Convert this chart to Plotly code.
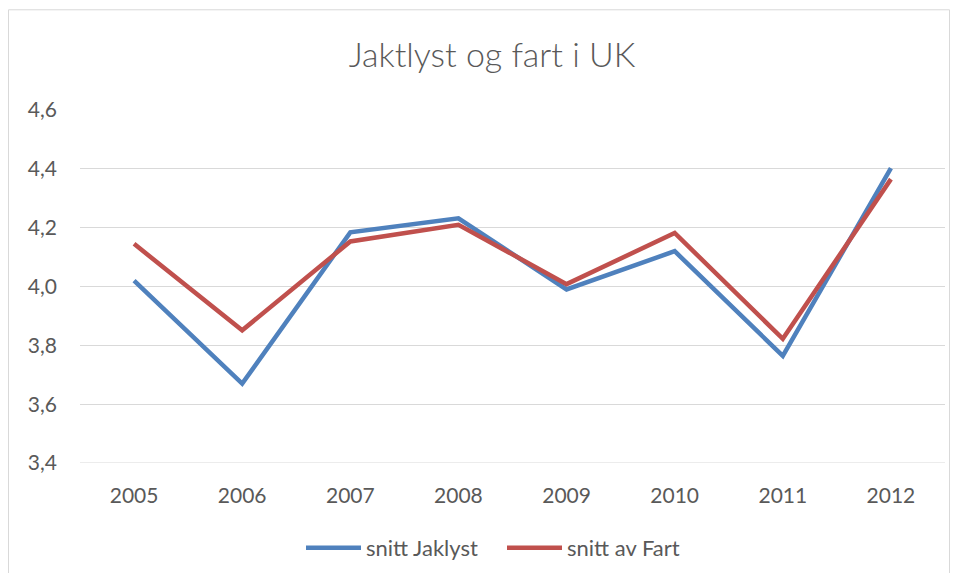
import plotly.graph_objects as go

years = ["2005", "2006", "2007", "2008", "2009", "2010", "2011", "2012"]
jaktlyst = [4.02, 3.67, 4.184, 4.232, 3.99, 4.12, 3.764, 4.402]
fart = [4.145, 3.851, 4.153, 4.21, 4.008, 4.182, 3.822, 4.365]
y_ticks = [3.4, 3.6, 3.8, 4.0, 4.2, 4.4, 4.6]

FONT = "Lato, 'Open Sans', sans-serif"
GREY = "#595959"

fig = go.Figure()
fig.add_trace(go.Scatter(x=years, y=jaktlyst, mode="lines", name="snitt Jaklyst",
                         line=dict(color="#4F81BD", width=4.5)))
fig.add_trace(go.Scatter(x=years, y=fart, mode="lines", name="snitt av Fart",
                         line=dict(color="#C0504D", width=4.5)))

# page has an 8px body margin, so figure coords = page coords - 8
W, H = 942, 565
L, R, T, B = 72, 5, 102, 109
pw, ph = W - L - R, H - T - B

def px(x):
    return (x - L) / pw

def py(y):
    return (H - B - y) / ph

fig.add_shape(type="rect", xref="paper", yref="paper",
              x0=px(0.5), x1=px(941.5), y0=py(600), y1=py(1.5),
              line=dict(color="#D9D9D9", width=1), fillcolor="rgba(0,0,0,0)", layer="below")

fig.update_layout(
    width=W, height=H,
    margin=dict(l=L, r=R, t=T, b=B),
    paper_bgcolor="white", plot_bgcolor="white",
    separators=",.",
    title=dict(text="Jaktlyst og fart i UK", x=px(484), xref="paper", xanchor="center",
               y=1 - 47 / H, yanchor="middle",
               font=dict(family=FONT, size=34, color=GREY, weight=300)),
    font=dict(family=FONT, color=GREY, size=21),
    xaxis=dict(type="category", range=[-0.5, 7.5], showgrid=False, showline=False,
               zeroline=False, ticks="", tickfont=dict(size=21, color=GREY),
               ticklabelstandoff=18),
    yaxis=dict(range=[3.4, 4.6], tickvals=y_ticks, tickformat=".1f",
               showgrid=True, gridcolor="#D9D9D9", gridwidth=1, zeroline=False,
               showline=False, ticks="", tickfont=dict(size=21, color=GREY),
               ticklabelstandoff=22),
    legend=dict(orientation="h", x=px(494), xanchor="center", xref="paper",
                y=py(540), yanchor="middle", font=dict(size=22, color=GREY),
                itemwidth=55, entrywidth=131, traceorder="normal"),
    showlegend=True,
)
fig.add_shape(type="line", xref="paper", yref="y", x0=0, x1=1, y0=3.4, y1=3.4,
              line=dict(color="#D9D9D9", width=1))

fig.write_html("out.html")
